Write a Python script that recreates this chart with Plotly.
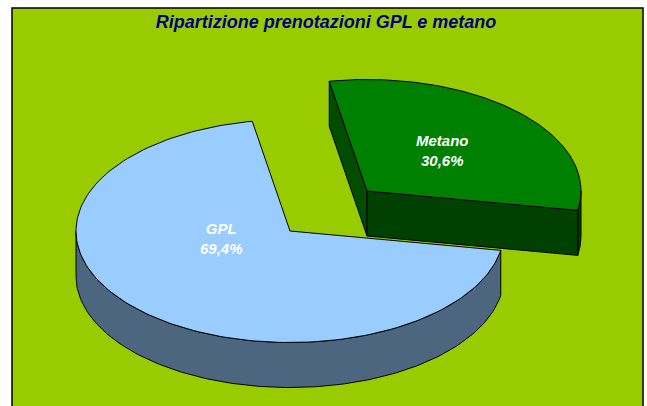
import numpy as np
import plotly.graph_objects as go

categories = ["GPL", "Metano"]
shares = [69.4, 30.6]
title_text = "Ripartizione prenotazioni GPL e metano"

W, H = 647, 406
CX, CY, RX, RY, DEPTH = 290, 231, 214, 111.5, 45
OFFSET = (77, -40)
START_DEG = 100
BG, NAVY = "#99CC00", "#000080"
TOPS = {"GPL": "#99CCFF", "Metano": "#008000"}
SIDES = {"GPL": "#4D6680", "Metano": "#004000"}
CUT = {"Metano": "#004D00"}
LABEL_POS = {"GPL": (221, 238), "Metano": (442, 150)}


def rim(a0, a1, ox=0, oy=0, n=160):
    t = np.radians(np.linspace(a0, a1, n))
    return CX + ox + RX * np.sin(t), CY + oy - RY * np.cos(t)


def poly(fig, xs, ys, color):
    fig.add_trace(go.Scatter(
        x=list(xs) + [xs[0]], y=list(ys) + [ys[0]], mode="lines", fill="toself",
        fillcolor=color, line=dict(color="black", width=1),
        hoverinfo="skip", showlegend=False))


def wall(fig, a0, a1, ox, oy, color):
    x, y = rim(a0, a1, ox, oy)
    poly(fig, np.r_[x, x[::-1]], np.r_[y, y[::-1] + DEPTH], color)


fig = go.Figure()
gpl_sweep = shares[0] / sum(shares) * 360
gpl_a0, gpl_a1 = START_DEG, START_DEG + gpl_sweep
met_a0, met_a1 = gpl_a1 - 360, START_DEG

# Metano: exploded slice
ox, oy = OFFSET
ax, ay = CX + ox, CY + oy
sx, sy = rim(met_a0, met_a0, ox, oy, 1)
ex, ey = rim(met_a1, met_a1, ox, oy, 1)
poly(fig, [ax, sx[0], sx[0], ax], [ay, sy[0], sy[0] + DEPTH, ay + DEPTH], CUT["Metano"])
wall(fig, max(90, met_a0), met_a1, ox, oy, SIDES["Metano"])
poly(fig, [ax, ex[0], ex[0], ax], [ay, ey[0], ey[0] + DEPTH, ay + DEPTH], SIDES["Metano"])
x, y = rim(met_a0, met_a1, ox, oy)
poly(fig, np.r_[ax, x], np.r_[ay, y], TOPS["Metano"])

# GPL slice
wall(fig, gpl_a0, 270, 0, 0, SIDES["GPL"])
x, y = rim(gpl_a0, gpl_a1)
poly(fig, np.r_[CX, x], np.r_[CY, y], TOPS["GPL"])

for name, val in zip(categories, shares):
    px, py = LABEL_POS[name]
    fig.add_annotation(
        x=px, y=py, xref="x", yref="y", showarrow=False,
        text=f"<b><i>{name}<br>{val:.1f}%</i></b>".replace(".", ","),
        font=dict(family="Liberation Sans", size=15, color="white"), align="center")

fig.update_layout(
    width=W, height=H, margin=dict(l=0, r=0, t=0, b=0),
    paper_bgcolor="white", plot_bgcolor="white", showlegend=False,
    title=dict(text=f"<b><i>{title_text}</i></b>", x=326 / W, xanchor="center",
               y=1 - 22 / H, yanchor="middle",
               font=dict(family="Liberation Sans", size=18, color=NAVY)),
    xaxis=dict(range=[0, W], visible=False, fixedrange=True),
    yaxis=dict(range=[H, 0], visible=False, fixedrange=True),
    shapes=[dict(type="rect", xref="x", yref="y", x0=12, y0=8, x1=643, y1=H + 10,
                 fillcolor=BG, line=dict(color="black", width=1.5), layer="below")],
)
fig.write_html("out.html", post_script="document.body.style.margin='0';",
               config={"displayModeBar": False})
